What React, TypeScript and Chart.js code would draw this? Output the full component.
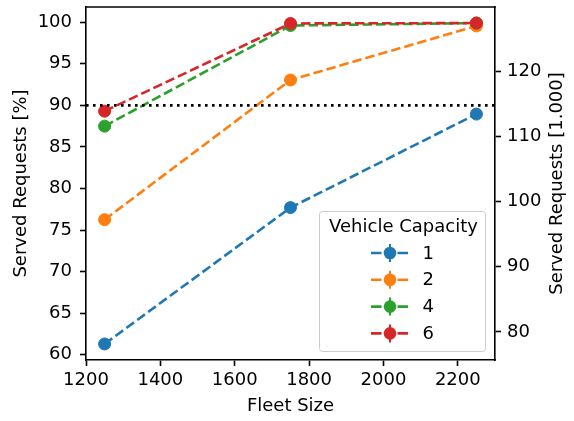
import React, { useEffect, useRef } from "react";
import { Chart, registerables } from "chart.js";

Chart.register(...registerables);

const fleetSizes = [1250, 1750, 2250];
const capacityLabels = ["1", "2", "4", "6"];
const servedCap1 = [61.3, 77.7, 88.95];
const servedCap2 = [76.25, 93.05, 99.55];
const servedCap4 = [87.5, 99.6, 99.9];
const servedCap6 = [89.3, 99.85, 99.9];
const thresholdPct = 90;
const xTickValues = [1200, 1400, 1600, 1800, 2000, 2200];
const leftTickValues = [60, 65, 70, 75, 80, 85, 90, 95, 100];
const rightTickValues = [80, 90, 100, 110, 120];
// total requests (in thousands) / 100 -> converts % to absolute [1.000]
const requestsPerPercent = 1.275;

const colors = ["#1f77b4", "#ff7f0e", "#2ca02c", "#d62728"];
const FONT = '"DejaVu Sans", "Liberation Sans", sans-serif';
const FS = 18;

const allValues = [...servedCap1, ...servedCap2, ...servedCap4, ...servedCap6];
const dMin = Math.min(...allValues);
const dMax = Math.max(...allValues);
const yMin = dMin - 0.05 * (dMax - dMin);
const yMax = dMax + 0.05 * (dMax - dMin);
const xMin = Math.min(...fleetSizes) - 0.05 * (Math.max(...fleetSizes) - Math.min(...fleetSizes));
const xMax = Math.max(...fleetSizes) + 0.05 * (Math.max(...fleetSizes) - Math.min(...fleetSizes));

const series = [servedCap1, servedCap2, servedCap4, servedCap6];

const overlayPlugin = {
  id: "overlay",
  afterDraw(chart: any) {
    const ctx = chart.ctx as CanvasRenderingContext2D;
    const a = chart.chartArea;
    ctx.save();
    // top spine
    ctx.strokeStyle = "#000";
    ctx.lineWidth = 1.6;
    ctx.beginPath();
    ctx.moveTo(a.left - 0.8, a.top);
    ctx.lineTo(a.right + 0.8, a.top);
    ctx.stroke();

    // axis titles
    ctx.fillStyle = "#000";
    ctx.font = `${FS}px ${FONT}`;
    ctx.textAlign = "center";
    ctx.textBaseline = "alphabetic";
    ctx.fillText("Fleet Size", (a.left + a.right) / 2, a.bottom + 51);
    const midY = (a.top + a.bottom) / 2;
    ctx.save();
    ctx.translate(21.5, midY);
    ctx.rotate(-Math.PI / 2);
    ctx.textBaseline = "middle";
    ctx.fillText("Served Requests [%]", 0, 0);
    ctx.restore();
    ctx.save();
    ctx.translate(557.5, midY);
    ctx.rotate(-Math.PI / 2);
    ctx.textBaseline = "middle";
    ctx.fillText("Served Requests [1.000]", 0, 0);
    ctx.restore();

    // legend
    const bx = a.right - 175.5;
    const by = a.bottom - 148.5;
    const bw = 166;
    const bh = 140;
    ctx.beginPath();
    (ctx as any).roundRect(bx, by, bw, bh, 3);
    ctx.fillStyle = "rgba(255,255,255,0.8)";
    ctx.fill();
    ctx.strokeStyle = "#cccccc";
    ctx.lineWidth = 1;
    ctx.stroke();

    ctx.fillStyle = "#000";
    ctx.textAlign = "center";
    ctx.textBaseline = "middle";
    ctx.fillText("Vehicle Capacity", bx + bw / 2 + 1, by + 16);
    capacityLabels.forEach((lab, i) => {
      const cy = by + 41.5 + i * 26.8;
      const x0 = bx + 51.5;
      const x1 = bx + 88.5;
      const cx = bx + 70.5;
      ctx.strokeStyle = colors[i];
      ctx.lineWidth = 2.6;
      ctx.beginPath();
      ctx.moveTo(x0, cy);
      ctx.lineTo(x0 + 10.5, cy);
      ctx.moveTo(x1 - 10.5, cy);
      ctx.lineTo(x1, cy);
      ctx.stroke();
      ctx.lineWidth = 2;
      ctx.beginPath();
      ctx.moveTo(cx, cy - 9);
      ctx.lineTo(cx, cy + 9);
      ctx.stroke();
      ctx.fillStyle = colors[i];
      ctx.beginPath();
      ctx.arc(cx, cy, 6.3, 0, Math.PI * 2);
      ctx.fill();
      ctx.fillStyle = "#000";
      ctx.textAlign = "left";
      ctx.fillText(lab, bx + 103, cy + 1);
    });
    ctx.restore();
  },
};

export default function App() {
  const ref = useRef<HTMLCanvasElement | null>(null);
  useEffect(() => {
    document.body.style.margin = "0";
    const canvas = ref.current;
    if (!canvas) return;
    const tickFont = { family: FONT, size: FS };
    const datasets: any[] = series.map((vals, i) => ({
      label: capacityLabels[i],
      data: fleetSizes.map((x, j) => ({ x, y: vals[j] })),
      borderColor: colors[i],
      backgroundColor: colors[i],
      pointBackgroundColor: colors[i],
      pointBorderColor: colors[i],
      pointRadius: 6,
      pointBorderWidth: 1,
      borderWidth: 2.6,
      borderDash: [9.5, 4],
      tension: 0,
      yAxisID: "y",
      order: 4 - i,
    }));
    datasets.push({
      label: "threshold",
      data: [
        { x: xMin, y: thresholdPct },
        { x: xMax, y: thresholdPct },
      ],
      borderColor: "#000",
      borderWidth: 2.6,
      borderDash: [2.6, 4.4],
      pointRadius: 0,
      yAxisID: "y",
      order: 0,
    });
    const axisGrid = {
      display: true,
      drawOnChartArea: false,
      drawTicks: true,
      tickLength: 6,
      tickColor: "#000",
      tickWidth: 1.6,
    };
    const axisBorder = { display: true, color: "#000", width: 1.6 };
    const chart = new Chart(canvas, {
      type: "line",
      data: { datasets },
      plugins: [overlayPlugin],
      options: {
        animation: false,
        responsive: false,
        devicePixelRatio: 1,
        layout: { padding: { top: 5, left: 0, right: 0, bottom: 0 } },
        plugins: { legend: { display: false }, tooltip: { enabled: false } },
        scales: {
          x: {
            type: "linear",
            min: xMin,
            max: xMax,
            afterBuildTicks: (s: any) => {
              s.ticks = xTickValues.map((v) => ({ value: v }));
            },
            ticks: {
              font: tickFont,
              color: "#000",
              padding: 4,
              maxRotation: 0,
              autoSkip: false,
              callback: (v: any) => String(v),
            },
            grid: axisGrid,
            border: axisBorder,
            afterFit: (s: any) => {
              s.height = 61;
              s.paddingLeft = 0;
              s.paddingRight = 0;
            },
          },
          y: {
            type: "linear",
            position: "left",
            min: yMin,
            max: yMax,
            afterBuildTicks: (s: any) => {
              s.ticks = leftTickValues.map((v) => ({ value: v }));
            },
            ticks: {
              font: tickFont,
              color: "#000",
              padding: 8,
              callback: (v: any) => String(v),
            },
            grid: axisGrid,
            border: axisBorder,
            afterFit: (s: any) => {
              s.width = 86;
              s.paddingTop = 0;
              s.paddingBottom = 0;
            },
          },
          y2: {
            type: "linear",
            position: "right",
            min: yMin * requestsPerPercent,
            max: yMax * requestsPerPercent,
            afterBuildTicks: (s: any) => {
              s.ticks = rightTickValues.map((v) => ({ value: v }));
            },
            ticks: {
              font: tickFont,
              color: "#000",
              padding: 6,
              callback: (v: any) => String(v),
            },
            grid: axisGrid,
            border: axisBorder,
            afterFit: (s: any) => {
              s.width = 79;
              s.paddingTop = 0;
              s.paddingBottom = 0;
            },
          },
        },
      } as any,
    });
    return () => chart.destroy();
  }, []);
  return (
    <div style={{ position: "fixed", left: 0, top: 0, width: 574, height: 421 }}>
      <canvas ref={ref} width={574} height={421} />
    </div>
  );
}
